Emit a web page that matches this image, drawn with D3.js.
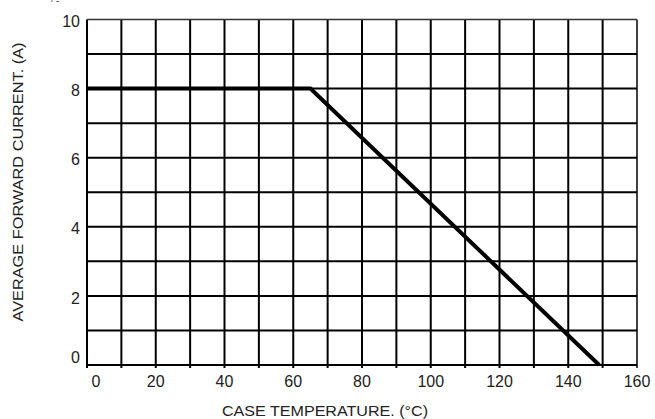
<!DOCTYPE html>
<html><head><meta charset="utf-8">
<script src="https://cdn.jsdelivr.net/npm/d3@7"></script>
<style>body{margin:0;background:#fff}svg{display:block}text{font-family:"Liberation Sans",Arial,sans-serif;fill:#222}</style>
</head><body>
<script>
const xTicks = [0,20,40,60,80,100,120,140,160];
const yTicks = [0,2,4,6,8,10];
const xGrid = d3.range(0,161,10);
const yGrid = d3.range(0,11,1);
const curveTemp = [0,65,149];
const curveCurrent = [8,8,0];
const xTitle = "CASE TEMPERATURE. (°C)";
const yTitle = "AVERAGE FORWARD CURRENT. (A)";

const W=655,H=419;
const svg=d3.select("body").append("svg").attr("width",W).attr("height",H);
const x=d3.scaleLinear().domain([0,160]).range([87,637]);
const y=d3.scaleLinear().domain([0,10]).range([365,19.5]);

const g=svg.append("g");
g.selectAll(".vg").data(xGrid).join("line")
 .attr("x1",d=>x(d)).attr("x2",d=>x(d)).attr("y1",y(10)).attr("y2",y(0)+3)
 .attr("stroke","#000").attr("stroke-width",d=>d===160?1.5:2);
g.selectAll(".hg").data(yGrid).join("line")
 .attr("x1",x(0)).attr("x2",x(160)).attr("y1",d=>y(d)).attr("y2",d=>y(d))
 .attr("stroke",d=>d===10?"#333":"#000").attr("stroke-width",d=>d===10?1.5:2);

const pts=curveTemp.map((t,i)=>[t,curveCurrent[i]]);
svg.append("path").datum(pts)
 .attr("d",d3.line().x(d=>x(d[0])).y(d=>y(d[1])))
 .attr("fill","none").attr("stroke","#000").attr("stroke-width",4).attr("stroke-linejoin","miter");

svg.selectAll(".xl").data(xTicks).join("text")
 .attr("x",d=>x(d)+(d===0?9:0)).attr("y",387).attr("text-anchor","middle")
 .attr("font-size",16).text(d=>d);
svg.selectAll(".yl").data(yTicks).join("text")
 .attr("x",80).attr("y",d=>y(d)+(d===0?-10:0)+2).attr("dy","0.35em").attr("text-anchor","end")
 .attr("font-size",16).text(d=>d);

svg.append("text").attr("x",325).attr("y",416).attr("text-anchor","middle").attr("font-size",15)
 .attr("textLength",206).attr("lengthAdjust","spacingAndGlyphs").text(xTitle);
svg.append("text").attr("transform","translate(23,182) rotate(-90)").attr("text-anchor","middle").attr("font-size",15)
 .attr("textLength",279).attr("lengthAdjust","spacingAndGlyphs").text(yTitle);
svg.append("text").attr("x",50).attr("y",9).attr("font-size",10).attr("fill","#555").text("ˊ ˉ");
</script>
</body></html>
